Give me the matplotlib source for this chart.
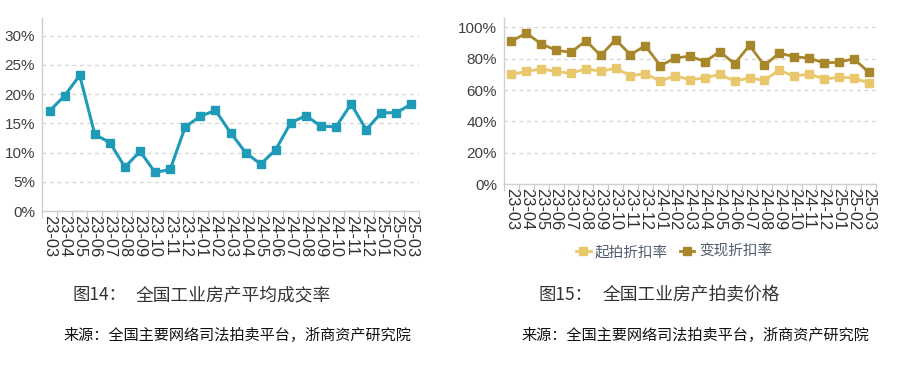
import numpy as np
import matplotlib.pyplot as plt
from matplotlib.lines import Line2D
from matplotlib.ticker import FuncFormatter

plt.rcParams['font.family'] = ['Noto Sans CJK SC', 'DejaVu Sans']

months = ["23-03", "23-04", "23-05", "23-06", "23-07", "23-08", "23-09", "23-10",
          "23-11", "23-12", "24-01", "24-02", "24-03", "24-04", "24-05", "24-06",
          "24-07", "24-08", "24-09", "24-10", "24-11", "24-12", "25-01", "25-02", "25-03"]

# 全国工业房产平均成交率 (%)
deal_rate = [17.1, 19.7, 23.2, 13.1, 11.7, 7.5, 10.2, 6.6, 7.1, 14.4, 16.2, 17.2, 13.4,
             10.0, 8.0, 10.5, 15.1, 16.3, 14.5, 14.4, 18.3, 13.9, 16.8, 16.8, 18.3]

# 起拍折扣率 / 变现折扣率 (%)
start_disc = [70.0, 71.9, 73.4, 71.9, 70.6, 73.6, 71.9, 74.0, 69.1, 70.4, 65.7, 69.1, 66.6,
              67.7, 70.0, 65.7, 67.7, 66.2, 72.8, 68.7, 70.4, 67.0, 68.1, 67.7, 64.5]
cash_disc = [91.1, 96.4, 89.4, 85.5, 84.0, 91.5, 82.1, 92.1, 82.6, 88.3, 75.5, 80.4, 81.7,
             78.1, 84.5, 76.8, 88.5, 75.7, 83.6, 81.3, 80.4, 77.4, 77.7, 80.0, 71.5]

left_ticks = [0, 5, 10, 15, 20, 25, 30]
right_ticks = [0, 20, 40, 60, 80, 100]

teal = "#1f9bb8"
gold_dark = "#a8862a"
gold_light = "#e9c76c"
lab_font = ['Liberation Sans', 'DejaVu Sans']

fig = plt.figure(figsize=(9, 3.68), dpi=100)
ax1 = fig.add_axes([42 / 900, 1 - 211 / 368, 377 / 900, 193 / 368])
ax2 = fig.add_axes([504 / 900, 1 - 184 / 368, 372 / 900, 166 / 368])

x = np.arange(len(months))


def style_axis(ax, yticks, ymax):
    ax.set_xlim(-0.5, len(months) - 0.5)
    ax.set_ylim(0, ymax)
    ax.set_yticks(yticks)
    ax.yaxis.set_major_formatter(FuncFormatter(lambda v, p: f"{v:.0f}%"))
    ax.set_xticks(x)
    ax.set_xticklabels(months, rotation=-90, fontsize=11.8, family=lab_font, color="#303030")
    ax.set_xticks(np.arange(-0.5, len(months), 1), minor=True)
    ax.tick_params(axis="x", which="major", length=0, pad=3)
    ax.tick_params(axis="x", which="minor", length=5, color="#c8c8c8", width=0.8)
    ax.tick_params(axis="y", length=0, pad=5)
    for lab in ax.get_yticklabels():
        lab.set_family(lab_font)
        lab.set_fontsize(11)
        lab.set_color("#404040")
    ax.grid(axis="y", color="#d4d4d4", linestyle=(0, (3, 3)), linewidth=0.9)
    ax.set_axisbelow(True)
    for s in ["top", "right"]:
        ax.spines[s].set_visible(False)
    for s in ["left", "bottom"]:
        ax.spines[s].set_color("#cfcfcf")
        ax.spines[s].set_linewidth(1)


style_axis(ax1, left_ticks, 33)
ax1.plot(x, deal_rate, color=teal, linewidth=2.2, marker="s", markersize=5.5)

style_axis(ax2, right_ticks, 106)
ax2.plot(x, start_disc, color=gold_light, linewidth=2.0, marker="s", markersize=5.5)
ax2.plot(x, cash_disc, color=gold_dark, linewidth=2.0, marker="s", markersize=5.5)

handles = [Line2D([], [], color=gold_light, linewidth=2, marker="s", markersize=5.5),
           Line2D([], [], color=gold_dark, linewidth=2, marker="s", markersize=5.5)]
fig.legend(handles, ["起拍折扣率", "变现折扣率"], loc="center", bbox_to_anchor=(674 / 900, 1 - 252 / 368),
           ncol=2, frameon=False, fontsize=10.5, handlelength=1.0, handletextpad=0.3,
           columnspacing=0.8, labelcolor="#4f5b6e")

cap_col = "#333333"
fig.text(73 / 900, 1 - 295 / 368, "图14：", fontsize=12.5, color=cap_col, va="center")
fig.text(136 / 900, 1 - 295 / 368, "全国工业房产平均成交率", fontsize=12.8, color=cap_col, va="center")
fig.text(63 / 900, 1 - 335 / 368, "来源：全国主要网络司法拍卖平台，浙商资产研究院",
         fontsize=10.9, color="#111111", va="center", weight="medium")

fig.text(539 / 900, 1 - 295 / 368, "图15：", fontsize=12.5, color=cap_col, va="center")
fig.text(603 / 900, 1 - 295 / 368, "全国工业房产拍卖价格", fontsize=12.8, color=cap_col, va="center")
fig.text(521 / 900, 1 - 335 / 368, "来源：全国主要网络司法拍卖平台，浙商资产研究院",
         fontsize=10.9, color="#111111", va="center", weight="medium")

fig.savefig("out.png", dpi=100)
